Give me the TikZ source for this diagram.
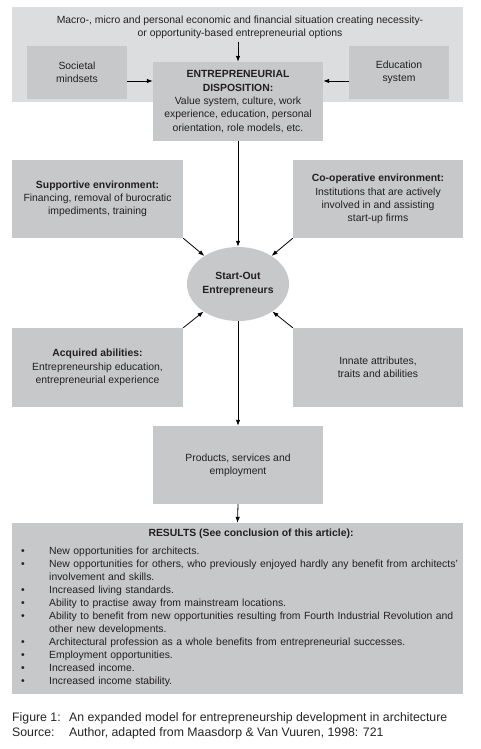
\documentclass[tikz,border=0pt]{standalone}
\usepackage{fontspec}
\setmainfont{Liberation Sans}
\usetikzlibrary{arrows.meta,shapes.geometric}
\definecolor{lightg}{HTML}{DCDDDE}
\definecolor{darkg}{HTML}{C7C8CA}
\definecolor{txt}{HTML}{231F20}
\newenvironment{reslist}{\begin{list}{\textbullet}{\setlength{\leftmargin}{28pt}\setlength{\labelsep}{0pt}\setlength{\labelwidth}{28pt}\setlength{\itemsep}{0pt}\setlength{\parsep}{0pt}\setlength{\topsep}{0pt}\setlength{\partopsep}{0pt}\def\makelabel##1{##1\hfil}}}{\end{list}}
\tikzset{
  base/.style={font=\fontsize{10.4pt}{13.3pt}\selectfont, text=txt, align=center, inner sep=0pt},
  gbox/.style={base, fill=darkg, draw=none},
  arr/.style={-{Latex[length=6pt,width=4.5pt]}, line width=0.8pt, draw=black},
}
\begin{document}
\begin{tikzpicture}[x=1pt,y=-1pt]
\useasboundingbox[fill=white] (0,0) rectangle (481,749);
% outer light box
\node[base, fill=lightg, minimum width=451pt, minimum height=95pt] (outer) at (237.5,54.5) {};
\node[base] (topt) at (240,27) {Macro-, micro and personal economic and financial situation creating necessity-\\or opportunity-based entrepreneurial options};
\node[gbox, minimum width=100pt, minimum height=53pt] (sm) at (77,72.5) {Societal\\mindsets};
\node[gbox, minimum width=100pt, minimum height=53pt] (es) at (399,72.5) {Education\\system};
\node[gbox, minimum width=170pt, minimum height=79pt] (ed) at (238,101.5) {\textbf{ENTREPRENEURIAL}\\\textbf{DISPOSITION:}\\Value system, culture, work\\experience, education, personal\\orientation, role models, etc.};
% middle
\node[gbox, minimum width=171pt, minimum height=78pt] (se) at (97.5,199) {\textbf{Supportive environment:}\\Financing, removal of burocratic\\impediments, training};
\node[gbox, minimum width=170pt, minimum height=78pt] (ce) at (378,199) {\textbf{Co-operative environment:}\\Institutions that are actively\\involved in and assisting\\start-up firms};
\node[gbox, ellipse, minimum width=102pt, minimum height=74pt] (so) at (238,284) {\textbf{Start-Out}\\\textbf{Entrepreneurs}};
\node[gbox, minimum width=171pt, minimum height=79pt] (aa) at (97.5,367.5) {\textbf{Acquired abilities:}\\Entrepreneurship education,\\entrepreneurial experience};
\node[gbox, minimum width=170pt, minimum height=79pt] (ia) at (378,367.5) {Innate attributes,\\traits and abilities};
\node[gbox, minimum width=170pt, minimum height=78pt] (ps) at (238,465) {Products, services and\\employment};
% results
\node[gbox, minimum width=451pt, minimum height=171pt] (res) at (237.5,608.5) {};
\node[base] (rtitle) at (251,534) {\textbf{RESULTS (See conclusion of this article):}};
\node[base, font=\fontsize{10.4pt}{13pt}\selectfont, anchor=north west, align=left, text width=440pt] (rlist) at (21,541.5) {%
\begin{reslist}
\item New opportunities for architects.
\item New opportunities for others, who previously enjoyed hardly any benefit from architects'\newline involvement and skills.
\item Increased living standards.
\item Ability to practise away from mainstream locations.
\item Ability to benefit from new opportunities resulting from Fourth Industrial Revolution and\newline other new developments.
\item Architectural profession as a whole benefits from entrepreneurial successes.
\item Employment opportunities.
\item Increased income.
\item Increased income stability.
\end{reslist}};
% caption
\node[base, font=\fontsize{12.3pt}{15pt}\selectfont, text=black!85, anchor=north west, align=left] (cap) at (12,711) {%
\begin{tabular}{@{}p{57pt}@{}l@{}}
Figure 1: & An expanded model for entrepreneurship development in architecture\\
Source: & Author, adapted from Maasdorp \& Van Vuuren, 1998: 721
\end{tabular}};
% connectors
\coordinate (ly) at (0,81);
\draw[arr] (ed.north |- topt.south) ++(0,3) -- (ed.north);
\draw[arr] (sm.east |- ly) -- (ed.west |- ly);
\draw[arr] (es.west |- ly) -- (ed.east |- ly);
\draw[arr] (ed.south) -- (so.north);
\draw[arr] (se.south east) -- (so);
\draw[arr] (ce.south west) -- (so);
\draw[arr] (aa.north east) -- (so);
\draw[arr] (ia.north west) -- (so);
\draw[arr] (so.south) -- (ps.north);
\draw[arr] (ps.south) -- (res.north);
\end{tikzpicture}
\end{document}
